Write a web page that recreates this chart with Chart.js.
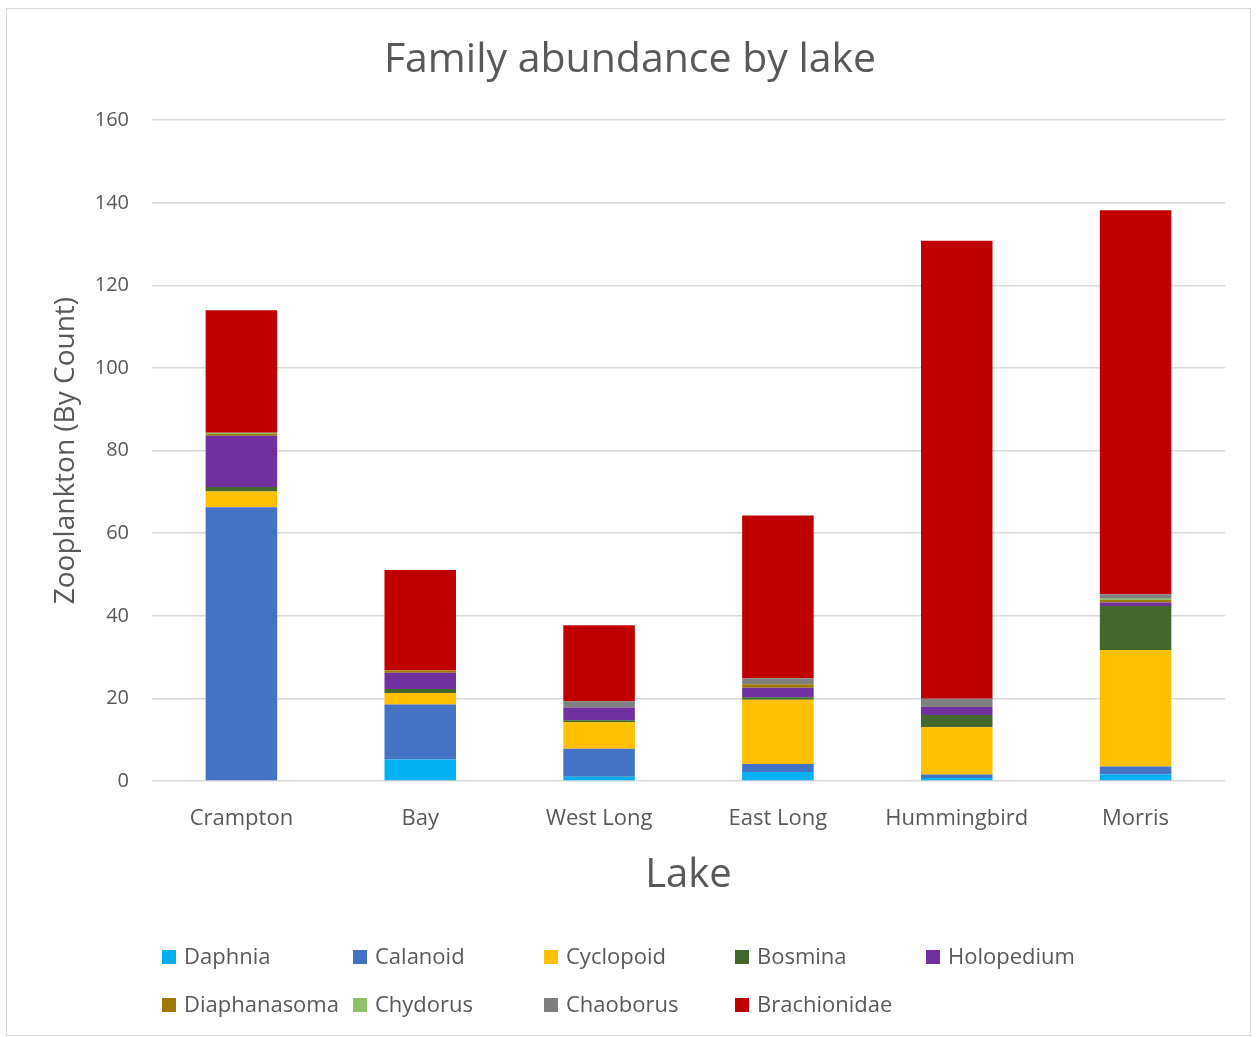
<!DOCTYPE html>
<html>
<head>
<meta charset="utf-8">
<script src="https://cdn.jsdelivr.net/npm/chart.js@4"></script>
<style>
  body { margin: 0; background: #fff; }
  #caja { position: absolute; left: 6px; top: 8px; width: 1243px; height: 1026px; border: 1px solid #d9d9d9; }
</style>
</head>
<body>
<div id="caja"><canvas id="myChart" width="1243" height="1026"></canvas></div>
<script>
let lagos = ["Crampton", "Bay", "West Long", "East Long", "Hummingbird", "Morris"];
let familias = ["Daphnia", "Calanoid", "Cyclopoid", "Bosmina", "Holopedium", "Diaphanasoma", "Chydorus", "Chaoborus", "Brachionidae"];
let colores = ["#00b0f0", "#4472c4", "#ffc000", "#43682b", "#7030a0", "#9e7a00", "#8cc168", "#7f7f7f", "#c00000"];

let daphnia      = [0,    5.2,  1.0,  2.2,  0.7,  1.6];
let calanoid     = [66.3, 13.3, 6.8,  1.9,  0.9,  1.9];
let cyclopoid    = [3.8,  2.8,  6.4,  15.6, 11.4, 28.2];
let bosmina      = [1.1,  1.0,  0.5,  0.6,  3.0,  10.7];
let holopedium   = [12.4, 3.9,  3.1,  2.3,  1.9,  0.8];
let diaphanasoma = [0.4,  0.6,  0,    0.8,  0,    0.6];
let chydorus     = [0.3,  0,    0,    0,    0,    0.3];
let chaoborus    = [0,    0,    1.5,  1.5,  2.0,  1.1];
let brachionidae = [29.7, 24.3, 18.4, 39.4, 110.9, 93.0];

let series = [daphnia, calanoid, cyclopoid, bosmina, holopedium, diaphanasoma, chydorus, chaoborus, brachionidae];
let ticksY = [0, 20, 40, 60, 80, 100, 120, 140, 160];

let fuente = "'Open Sans', sans-serif";
let gris = "#595959";

const datasets = series.map((data, i) => ({
    label: familias[i],
    data,
    backgroundColor: colores[i],
    borderWidth: 0,
    categoryPercentage: 1,
    barPercentage: 0.4
}));

// leyenda en cuadricula, como en la figura
const leyenda = {
    id: "leyenda",
    afterDraw(chart){
        const ctx = chart.ctx;
        ctx.save();
        ctx.font = "22px " + fuente;
        ctx.textBaseline = "middle";
        familias.forEach((nombre, i) => {
            let x = 155 + (i % 5) * 191;
            let y = 948 + Math.floor(i / 5) * 48;
            ctx.fillStyle = colores[i];
            ctx.fillRect(x, y - 7, 14, 14);
            ctx.fillStyle = gris;
            ctx.fillText(nombre, x + 22, y + 1);
        });
        ctx.restore();
    }
};

new Chart(document.getElementById("myChart"), {
    type: "bar",
    data: { labels: lagos, datasets },
    plugins: [leyenda],
    options: {
        responsive: false,
        animation: false,
        layout: { padding: { left: 28, right: 25, top: 0, bottom: 134 } },
        plugins: {
            legend: { display: false },
            tooltip: { enabled: false },
            title: {
                display: true,
                text: "Family abundance by lake",
                color: gris,
                font: { family: fuente, size: 41, weight: "normal" },
                padding: { top: 27, bottom: 35 }
            }
        },
        scales: {
            x: {
                stacked: true,
                grid: { display: false },
                border: { display: false },
                ticks: { color: gris, font: { family: fuente, size: 22 }, padding: 17 },
                title: { display: true, text: "Lake", color: gris, font: { family: fuente, size: 40 }, padding: { top: 0, bottom: 1 } },
                afterFit(s){ s.height = 120; }
            },
            y: {
                stacked: true,
                min: 0,
                max: 160,
                afterBuildTicks(s){ s.ticks = ticksY.map(v => ({ value: v })); },
                grid: { color: "#d9d9d9", lineWidth: 1.5, drawTicks: false },
                border: { display: false },
                ticks: { color: gris, font: { family: fuente, size: 20 }, padding: 23 },
                title: { display: true, text: "Zooplankton (By Count)", color: gris, font: { family: fuente, size: 28 }, padding: { top: 14, bottom: 0 } },
                afterFit(s){ s.width = 117; }
            }
        }
    }
});
</script>
</body>
</html>
